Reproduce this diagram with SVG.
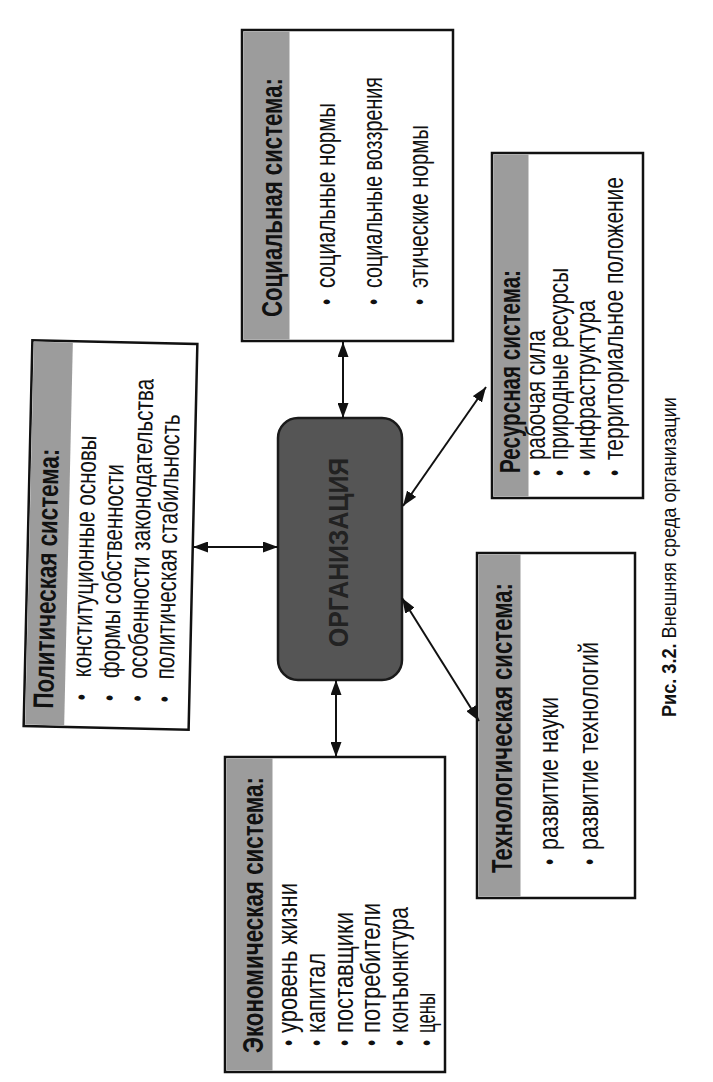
<svg xmlns="http://www.w3.org/2000/svg" width="713" height="1082" viewBox="0 0 713 1082">
<style>
.box{fill:#fff;stroke:#111;stroke-width:2.5}
.hdr{fill:#9c9c9c;stroke:none}
.ht{font-family:"Liberation Sans",Arial,sans-serif;font-weight:bold;font-size:22px;fill:#111}
.it{font-family:"Liberation Sans",Arial,sans-serif;font-size:21px;fill:#111}
.bl{font-family:"Liberation Sans",Arial,sans-serif;font-size:18px;fill:#111}
.cap{font-family:"Liberation Sans",Arial,sans-serif;font-size:15px;fill:#111}
.org{fill:#555;stroke:#1a1a1a;stroke-width:2.5}
.orgt{font-family:"Liberation Sans",Arial,sans-serif;font-weight:bold;font-size:22px;fill:#222}
.conn{stroke:#111;stroke-width:2;fill:none;marker-start:url(#ah);marker-end:url(#ah)}
</style>
<defs>
<marker id="ah" markerUnits="userSpaceOnUse" markerWidth="15" markerHeight="11" refX="15" refY="5.5" orient="auto-start-reverse">
<path d="M0,0 L15,5.5 L0,11 z" fill="#111"/>
</marker>
</defs>
<rect width="713" height="1082" fill="#fff"/>

<g id="node-political" transform="rotate(1.3 110 535)">
<rect class="box" x="28" y="342" width="165" height="386"/>
<rect class="hdr" x="29.5" y="343.5" width="39" height="383"/>
<text class="ht" transform="translate(57,710) rotate(-90) scale(1,1.3)" textLength="260" lengthAdjust="spacingAndGlyphs">Политическая система:</text>
<text class="bl" transform="translate(93,701) rotate(-90) scale(1,1.3)">•</text>
<text class="bl" transform="translate(121,701) rotate(-90) scale(1,1.3)">•</text>
<text class="bl" transform="translate(149,701) rotate(-90) scale(1,1.3)">•</text>
<text class="bl" transform="translate(176,701) rotate(-90) scale(1,1.3)">•</text>
<text class="it" transform="translate(94,678) rotate(-90) scale(1,1.3)" textLength="242" lengthAdjust="spacingAndGlyphs">конституционные основы</text>
<text class="it" transform="translate(122,678) rotate(-90) scale(1,1.3)" textLength="214" lengthAdjust="spacingAndGlyphs">формы собственности</text>
<text class="it" transform="translate(150,678) rotate(-90) scale(1,1.3)" textLength="300" lengthAdjust="spacingAndGlyphs">особенности законодательства</text>
<text class="it" transform="translate(177,678) rotate(-90) scale(1,1.3)" textLength="265" lengthAdjust="spacingAndGlyphs">политическая стабильность</text>
</g>

<g id="node-social">
<rect class="box" x="242" y="30" width="211" height="311"/>
<rect class="hdr" x="243.5" y="31.5" width="46" height="308"/>
<text class="ht" transform="translate(282,317) rotate(-90) scale(1,1.3)" textLength="239" lengthAdjust="spacingAndGlyphs">Социальная система:</text>
<text class="bl" transform="translate(335,305) rotate(-90) scale(1,1.3)">•</text>
<text class="bl" transform="translate(382,305) rotate(-90) scale(1,1.3)">•</text>
<text class="bl" transform="translate(428,305) rotate(-90) scale(1,1.3)">•</text>
<text class="it" transform="translate(335,288) rotate(-90) scale(1,1.3)" textLength="185" lengthAdjust="spacingAndGlyphs">социальные нормы</text>
<text class="it" transform="translate(382,288) rotate(-90) scale(1,1.3)" textLength="211" lengthAdjust="spacingAndGlyphs">социальные воззрения</text>
<text class="it" transform="translate(428,288) rotate(-90) scale(1,1.3)" textLength="163" lengthAdjust="spacingAndGlyphs">этические нормы</text>
</g>

<g id="node-resource">
<rect class="box" x="492" y="153" width="151" height="345"/>
<rect class="hdr" x="493.5" y="154.5" width="35" height="342"/>
<text class="ht" transform="translate(520,473) rotate(-90) scale(1,1.3)" textLength="203" lengthAdjust="spacingAndGlyphs">Ресурсная система:</text>
<text class="bl" transform="translate(545,476) rotate(-90) scale(1,1.3)">•</text>
<text class="bl" transform="translate(568,476) rotate(-90) scale(1,1.3)">•</text>
<text class="bl" transform="translate(595,476) rotate(-90) scale(1,1.3)">•</text>
<text class="bl" transform="translate(623,476) rotate(-90) scale(1,1.3)">•</text>
<text class="it" transform="translate(545,460) rotate(-90) scale(1,1.3)" textLength="130" lengthAdjust="spacingAndGlyphs">рабочая сила</text>
<text class="it" transform="translate(568,460) rotate(-90) scale(1,1.3)" textLength="192" lengthAdjust="spacingAndGlyphs">природные ресурсы</text>
<text class="it" transform="translate(595,460) rotate(-90) scale(1,1.3)" textLength="160" lengthAdjust="spacingAndGlyphs">инфраструктура</text>
<text class="it" transform="translate(623,460) rotate(-90) scale(1,1.3)" textLength="283" lengthAdjust="spacingAndGlyphs">территориальное положение</text>
</g>

<g id="node-tech">
<rect class="box" x="477" y="553" width="158" height="345"/>
<rect class="hdr" x="478.5" y="554.5" width="42" height="342"/>
<text class="ht" transform="translate(512,873) rotate(-90) scale(1,1.3)" textLength="290" lengthAdjust="spacingAndGlyphs">Технологическая система:</text>
<text class="bl" transform="translate(558,865) rotate(-90) scale(1,1.3)">•</text>
<text class="bl" transform="translate(598,865) rotate(-90) scale(1,1.3)">•</text>
<text class="it" transform="translate(558,850) rotate(-90) scale(1,1.3)" textLength="153" lengthAdjust="spacingAndGlyphs">развитие науки</text>
<text class="it" transform="translate(598,850) rotate(-90) scale(1,1.3)" textLength="208" lengthAdjust="spacingAndGlyphs">развитие технологий</text>
</g>

<g id="node-economic">
<rect class="box" x="225" y="757" width="220" height="315"/>
<rect class="hdr" x="226.5" y="758.5" width="46" height="312"/>
<text class="ht" transform="translate(263,1053) rotate(-90) scale(1,1.3)" textLength="276" lengthAdjust="spacingAndGlyphs">Экономическая система:</text>
<text class="bl" transform="translate(297,1046) rotate(-90) scale(1,1.3)">•</text>
<text class="bl" transform="translate(325,1046) rotate(-90) scale(1,1.3)">•</text>
<text class="bl" transform="translate(353,1046) rotate(-90) scale(1,1.3)">•</text>
<text class="bl" transform="translate(380,1046) rotate(-90) scale(1,1.3)">•</text>
<text class="bl" transform="translate(408,1046) rotate(-90) scale(1,1.3)">•</text>
<text class="bl" transform="translate(435,1046) rotate(-90) scale(1,1.3)">•</text>
<text class="it" transform="translate(297,1033) rotate(-90) scale(1,1.3)" textLength="150" lengthAdjust="spacingAndGlyphs">уровень жизни</text>
<text class="it" transform="translate(325,1033) rotate(-90) scale(1,1.3)" textLength="80" lengthAdjust="spacingAndGlyphs">капитал</text>
<text class="it" transform="translate(353,1033) rotate(-90) scale(1,1.3)" textLength="121" lengthAdjust="spacingAndGlyphs">поставщики</text>
<text class="it" transform="translate(380,1033) rotate(-90) scale(1,1.3)" textLength="130" lengthAdjust="spacingAndGlyphs">потребители</text>
<text class="it" transform="translate(408,1033) rotate(-90) scale(1,1.3)" textLength="126" lengthAdjust="spacingAndGlyphs">конъюнктура</text>
<text class="it" transform="translate(435,1033) rotate(-90) scale(1,1.3)" textLength="40" lengthAdjust="spacingAndGlyphs">цены</text>
</g>

<g id="node-org">
<rect class="org" x="278" y="418" width="124" height="262" rx="20" ry="20"/>
<text class="orgt" transform="translate(348,647) rotate(-90) scale(1,1.27)" textLength="189" lengthAdjust="spacingAndGlyphs">ОРГАНИЗАЦИЯ</text>
</g>

<g id="connectors">
<line class="conn" x1="193" y1="547" x2="278" y2="547"/>
<line class="conn" x1="343" y1="342" x2="343" y2="418"/>
<line class="conn" x1="336" y1="680" x2="336" y2="757"/>
<line class="conn" x1="486" y1="387" x2="403" y2="506"/>
<line class="conn" x1="402" y1="598" x2="479" y2="721"/>
</g>

<g id="caption">
<text class="cap" transform="translate(676,717) rotate(-90) scale(1,1.35)" textLength="320" lengthAdjust="spacingAndGlyphs"><tspan font-weight="bold">Рис. 3.2.</tspan> Внешняя среда организации</text>
</g>
</svg>
